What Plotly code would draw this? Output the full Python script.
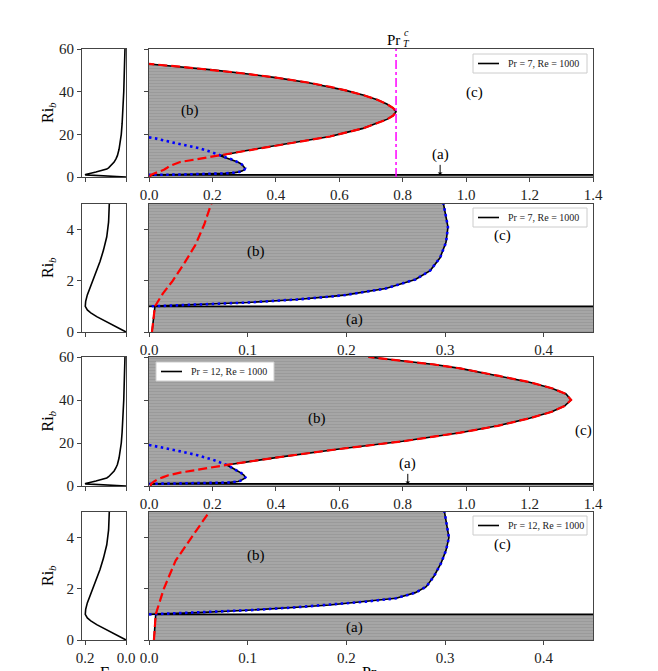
import plotly.graph_objects as go

# mixing efficiency profile, left panels
GAMMA_RI = [0, 0.1, 0.2, 0.34, 0.45, 0.6, 0.75, 0.86, 1.0, 1.2, 1.45, 1.9, 2.3, 2.75, 3.2,
            3.72, 4.3, 5.0, 6, 7, 8.5, 10, 13, 16, 20, 25, 30, 40, 50, 60]
GAMMA = [0, 0.024, 0.048, 0.078, 0.11, 0.143, 0.172, 0.189, 0.199, 0.197, 0.189, 0.167, 0.147,
         0.127, 0.11, 0.094, 0.085, 0.077, 0.066, 0.058, 0.049, 0.042, 0.034, 0.029, 0.023,
         0.019, 0.016, 0.011, 0.008, 0.005]

# Pr = 7
PR7_RED_LOW_X = [0.003, 0.0045, 0.006, 0.014, 0.024, 0.036, 0.047, 0.056, 0.063, 0.098, 0.161, 0.224]
PR7_RED_LOW_Y = [0.0, 0.5, 1.0, 1.5, 2.0, 2.7, 3.4, 4.2, 5.0, 7.0, 8.6, 10.0]
PR7_RED_OUT_X = [0.224, 0.3, 0.4, 0.5, 0.571, 0.62, 0.675, 0.72, 0.75, 0.77, 0.779,
                 0.77, 0.75, 0.72, 0.675, 0.62, 0.571, 0.5, 0.4, 0.3, 0.2, 0.1, 0.0]
PR7_RED_OUT_Y = [10.0, 12.2, 14.8, 17.2, 19.0, 20.8, 22.8, 25.3, 27.0, 28.8, 30.6,
                 32.3, 34.2, 36.2, 38.4, 40.6, 42.3, 44.3, 46.6, 48.5, 50.2, 51.7, 53.0]
PR7_BLUE_UP_X = [0.0, 0.02, 0.08, 0.161, 0.2, 0.224]
PR7_BLUE_UP_Y = [18.6, 18.1, 16.0, 13.4, 11.5, 10.0]
PR7_LOBE_X = [0.224, 0.245, 0.266, 0.28, 0.292, 0.2985, 0.303, 0.301, 0.295, 0.285, 0.27,
              0.24, 0.2, 0.183, 0.15, 0.1, 0.05, 0.0]
PR7_LOBE_Y = [10.0, 9.0, 8.0, 7.0, 6.0, 5.0, 4.1, 3.5, 2.9, 2.4, 2.05,
              1.7, 1.45, 1.38, 1.27, 1.15, 1.07, 1.0]

# Pr = 12
PR12_RED_LOW_X = [0.005, 0.0068, 0.015, 0.027, 0.043, 0.061, 0.098, 0.15, 0.2, 0.245]
PR12_RED_LOW_Y = [0.0, 1.0, 2.0, 3.1, 4.0, 5.0, 6.2, 7.5, 8.7, 9.8]
PR12_RED_OUT_X = [0.245, 0.4, 0.6, 0.8, 0.981, 1.1, 1.2, 1.27, 1.31, 1.331,
                  1.315, 1.27, 1.2, 1.1, 0.981, 0.9, 0.8, 0.692]
PR12_RED_OUT_Y = [9.8, 13.2, 17.2, 20.8, 24.8, 28.0, 31.5, 34.5, 37.2, 40.0,
                  42.8, 45.5, 48.3, 51.3, 54.7, 56.5, 58.3, 60.0]
PR12_BLUE_UP_X = [0.0, 0.05, 0.1, 0.15, 0.2, 0.245]
PR12_BLUE_UP_Y = [19.1, 17.7, 16.1, 14.4, 12.3, 9.8]
PR12_LOBE_X = [0.245, 0.262, 0.278, 0.291, 0.2995, 0.304, 0.301, 0.296, 0.289, 0.281, 0.27,
               0.2505, 0.22, 0.183, 0.15, 0.1, 0.05, 0.0]
PR12_LOBE_Y = [9.8, 8.5, 7.2, 6.0, 5.0, 4.0, 3.5, 3.0, 2.5, 2.08, 1.85,
               1.63, 1.5, 1.37, 1.28, 1.16, 1.07, 1.0]

RI_LINE = 1.0
PRT_CRIT = 0.779
ARROW_X = {1: 0.918, 3: 0.816}

CASES = {
    7: dict(low=(PR7_RED_LOW_X, PR7_RED_LOW_Y), out=(PR7_RED_OUT_X, PR7_RED_OUT_Y),
            up=(PR7_BLUE_UP_X, PR7_BLUE_UP_Y), lobe=(PR7_LOBE_X, PR7_LOBE_Y)),
    12: dict(low=(PR12_RED_LOW_X, PR12_RED_LOW_Y), out=(PR12_RED_OUT_X, PR12_RED_OUT_Y),
             up=(PR12_BLUE_UP_X, PR12_BLUE_UP_Y), lobe=(PR12_LOBE_X, PR12_LOBE_Y)),
}

W, H = 658, 671
OFF = 8  # page body margin
FONT = "Liberation Serif"
AX = '#444'
HATCH = dict(shape='-', bgcolor='#a6a6a6', fgcolor='#8e8e8e', size=3, solidity=0.35)


def px(x):
    return (x - OFF) / W


def py(y):
    return 1 - (y - OFF) / H


# rows: (pr, xmax, ymax, y-top px, y-bottom px)
ROWS = [(7, 1.4, 60, 49, 177), (7, 0.45, 5, 204, 332), (12, 1.4, 60, 357, 486), (12, 0.45, 5, 512, 640)]
LEFT_DOM = [px(82), px(126)]
MAIN_DOM = [px(149), px(593)]
# legend boxes in page pixels: left, top, right, bottom
LEG_BOX = {1: (473, 54, 587, 73), 2: (473, 208, 587, 227), 3: (156, 362, 274, 381), 4: (473, 516, 587, 535)}

fig = go.Figure()
layout = {}
annots = []
shapes = []

for r, (pr, xmax, ymax, ytop, ybot) in enumerate(ROWS, start=1):
    c = CASES[pr]
    li, mi = 2 * r - 1, 2 * r
    lx, ly = ('x' if li == 1 else f'x{li}'), ('y' if li == 1 else f'y{li}')
    mx, my = f'x{mi}', f'y{mi}'
    ydom = [py(ybot), py(ytop)]

    # left panel: Gamma(Ri)
    fig.add_trace(go.Scatter(x=GAMMA, y=GAMMA_RI, mode='lines', line=dict(color='black', width=1.6),
                             xaxis=lx, yaxis=ly, showlegend=False))

    low_x, low_y = c['low']
    out_x, out_y = c['out']
    up_x, up_y = c['up']
    lobe_x, lobe_y = c['lobe']

    # region (b)
    ox, oy = out_x[::-1], out_y[::-1]
    if ox[0] > 0:
        ox, oy = [0] + ox, [oy[0]] + oy
    fig.add_trace(go.Scatter(x=ox + lobe_x, y=oy + lobe_y, fill='toself', mode='none',
                             fillpattern=HATCH, xaxis=mx, yaxis=my, showlegend=False))
    # region (a)
    ax_ = [x for x, y in zip(low_x, low_y) if y <= RI_LINE]
    ay_ = [y for y in low_y if y <= RI_LINE]
    fig.add_trace(go.Scatter(x=ax_ + [xmax, xmax], y=ay_ + [RI_LINE, 0], fill='toself', mode='none',
                             fillpattern=HATCH, xaxis=mx, yaxis=my, showlegend=False))

    # black boundaries
    bx = out_x[::-1] + lobe_x + [None] + ax_ + [xmax]
    by = out_y[::-1] + lobe_y + [None] + ay_ + [RI_LINE]
    fig.add_trace(go.Scatter(x=bx, y=by, mode='lines', line=dict(color='black', width=1.6),
                             xaxis=mx, yaxis=my, showlegend=False))
    # blue dotted
    fig.add_trace(go.Scatter(x=up_x + lobe_x[1:], y=up_y + lobe_y[1:], mode='lines',
                             line=dict(color='#0000ff', width=2.6, dash='2.5px,3.5px'),
                             xaxis=mx, yaxis=my, showlegend=False))
    # red dashed
    fig.add_trace(go.Scatter(x=low_x + out_x[1:], y=low_y + out_y[1:], mode='lines',
                             line=dict(color='#ff0000', width=2.2, dash='9px,4px'),
                             xaxis=mx, yaxis=my, showlegend=False))

    if r == 1:
        fig.add_trace(go.Scatter(x=[PRT_CRIT, PRT_CRIT], y=[0, ymax], mode='lines',
                                 line=dict(color='#ff00ff', width=1.5, dash='dashdot'),
                                 xaxis=mx, yaxis=my, showlegend=False))
        annots.append(dict(x=PRT_CRIT, y=py(40), xref=mx, yref='paper', showarrow=False,
                           xanchor='right', yanchor='middle', xshift=6,
                           text='Pr', font=dict(size=15, color='black')))
        annots.append(dict(x=PRT_CRIT, y=py(44), xref=mx, yref='paper', showarrow=False,
                           xanchor='left', yanchor='middle', xshift=5,
                           text='<i>T</i>', font=dict(size=10, color='black')))
        annots.append(dict(x=PRT_CRIT, y=py(33), xref=mx, yref='paper', showarrow=False,
                           xanchor='left', yanchor='middle', xshift=6,
                           text='<i>c</i>', font=dict(size=10, color='black')))

    big = ymax > 10
    yt = [0, 20, 40, 60] if big else [0, 2, 4]
    axis_common = dict(showline=True, linecolor=AX, linewidth=1, mirror=True, ticks='outside',
                       ticklen=4, tickcolor=AX, showgrid=False, zeroline=False, automargin=False,
                       tickfont=dict(family=FONT, size=15, color='#222'))
    layout['xaxis' if li == 1 else f'xaxis{li}'] = dict(
        axis_common, domain=LEFT_DOM, range=[0.215, 0], anchor=ly, tickvals=[0.2, 0.0],
        ticktext=['0.2', '0.0'], showticklabels=(r == 4))
    layout['yaxis' if li == 1 else f'yaxis{li}'] = dict(
        axis_common, domain=ydom, range=[0, ymax], anchor=lx, tickvals=yt)
    layout[f'xaxis{mi}'] = dict(
        axis_common, domain=MAIN_DOM, range=[0, xmax], anchor=my,
        tickvals=[0, 0.2, 0.4, 0.6, 0.8, 1.0, 1.2, 1.4] if big else [0, 0.1, 0.2, 0.3, 0.4],
        tickformat='.1f')
    layout[f'yaxis{mi}'] = dict(
        axis_common, domain=ydom, range=[0, ymax], anchor=mx, tickvals=yt, showticklabels=False)

    # legend box drawn by hand (matplotlib-like)
    l0, t0, r0, b0 = LEG_BOX[r]
    ym = (t0 + b0) / 2
    shapes.append(dict(type='rect', xref='paper', yref='paper', x0=px(l0), x1=px(r0), y0=py(b0), y1=py(t0),
                       line=dict(color='#cccccc', width=1), fillcolor='white', layer='above'))
    shapes.append(dict(type='line', xref='paper', yref='paper', x0=px(l0 + 5), x1=px(l0 + 26),
                       y0=py(ym), y1=py(ym), line=dict(color='black', width=1.6), layer='above'))
    annots.append(dict(x=px(l0 + 33), y=py(ym), xref='paper', yref='paper', xanchor='left',
                       yanchor='middle', showarrow=False, text=f'Pr = {pr}, Re = 1000',
                       font=dict(size=10, color='#222')))

    annots.append(dict(x=px(48), y=py((ytop + ybot) / 2), xref='paper', yref='paper',
                       xanchor='center', yanchor='middle',
                       text='Ri<sub><i>b</i></sub>', textangle=-90, showarrow=False,
                       font=dict(size=16, color='black')))

# region labels
LABELS = {
    1: [('(b)', 0.129, 31.4), ('(c)', 1.025, 39.7)],
    2: [('(b)', 0.108, 3.16), ('(c)', 0.358, 3.75), ('(a)', 0.208, 0.5)],
    3: [('(b)', 0.529, 31.5), ('(c)', 1.37, 26.0)],
    4: [('(b)', 0.108, 3.3), ('(c)', 0.358, 3.75), ('(a)', 0.208, 0.47)],
}
for r, items in LABELS.items():
    for t, x, y in items:
        annots.append(dict(x=x, y=y, xref=f'x{2 * r}', yref=f'y{2 * r}', text=t, showarrow=False,
                           font=dict(size=15, color='black')))
for r, x in ARROW_X.items():
    annots.append(dict(x=x, y=RI_LINE, xref=f'x{2 * r}', yref=f'y{2 * r}', text='(a)',
                       showarrow=True, arrowhead=1, arrowsize=0.8, arrowwidth=1, arrowcolor='black',
                       ax=0, ay=-20, font=dict(size=15, color='black')))

annots.append(dict(x=px(104), y=py(662), xref='paper', yref='paper', xanchor='center', yanchor='top',
                   text='Γ', showarrow=False, font=dict(size=16, color='black')))
annots.append(dict(x=px(372), y=py(662), xref='paper', yref='paper', xanchor='center', yanchor='top',
                   text='Pr<sub><i>T</i></sub>', showarrow=False, font=dict(size=16, color='black')))

fig.update_layout(**layout)
fig.update_layout(width=W, height=H, margin=dict(l=0, r=0, t=0, b=0, autoexpand=False),
                  paper_bgcolor='white', plot_bgcolor='white', showlegend=False,
                  font=dict(family=FONT, color='black'), annotations=annots, shapes=shapes)
fig.write_html("out.html")
